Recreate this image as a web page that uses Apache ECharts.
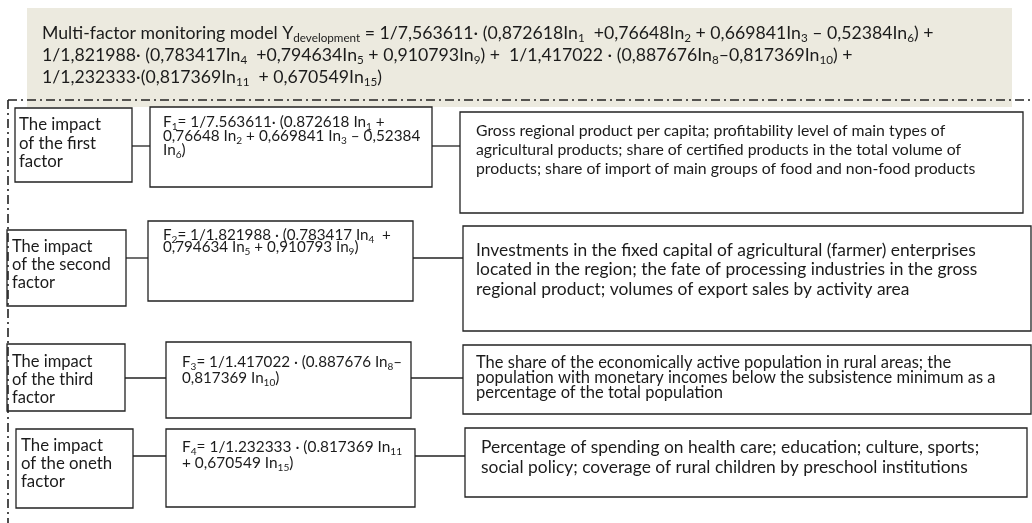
<!DOCTYPE html>
<html>
<head>
<meta charset="utf-8">
<script src="https://cdn.jsdelivr.net/npm/echarts@6/dist/echarts.min.js"></script>
<style>
  html, body { margin: 0; padding: 0; background: #fff; }
  #chart { width: 1032px; height: 523px; }
</style>
</head>
<body>
<div id="chart"></div>
<script>
// text of the diagram, _{..} marks a subscript
const headerLines = [
  'Multi-factor monitoring model Y_{development} = 1/7,563611· (0,872618In_{1}  +0,76648In_{2} + 0,669841In_{3} – 0,52384In_{6}) +',
  '1/1,821988· (0,783417In_{4}  +0,794634In_{5} + 0,910793In_{9}) +  1/1,417022 · (0,887676In_{8}–0,817369In_{10}) +',
  '1/1,232333·(0,817369In_{11}  + 0,670549In_{15})'
];

const factorLabels = [
  ['The impact', 'of the first', 'factor'],
  ['The impact', 'of the second', 'factor'],
  ['The impact', 'of the third', 'factor'],
  ['The impact', 'of the oneth', 'factor']
];

const formulas = [
  ['F_{1}= 1/7.563611· (0.872618 In_{1} +', '0,76648 In_{2} + 0,669841 In_{3} – 0,52384', 'In_{6})'],
  ['F_{2}= 1/1.821988 · (0.783417 In_{4}  +', '0,794634 In_{5} + 0,910793 In_{9})'],
  ['F_{3}= 1/1.417022 · (0.887676 In_{8}–', '0,817369 In_{10})'],
  ['F_{4}= 1/1.232333 · (0.817369 In_{11}', '+ 0,670549 In_{15})']
];

const descriptions = [
  ['Gross regional product per capita; profitability level of main types of',
   'agricultural products; share of certified products in the total volume of',
   'products; share of import of main groups of food and non-food products'],
  ['Investments in the fixed capital of agricultural (farmer) enterprises',
   'located in the region; the fate of processing industries in the gross',
   'regional product; volumes of export sales by activity area'],
  ['The share of the economically active population in rural areas; the',
   'population with monetary incomes below the subsistence minimum as a',
   'percentage of the total population'],
  ['Percentage of spending on health care; education; culture, sports;',
   'social policy; coverage of rural children by preschool institutions']
];

const FONT = 'Lato';
const INK = '#1b1b1b';

// box geometry per row: [x, y, w, h]; text: [x, first line centre, font size, line gap]
const rows = [
  { left: [15, 108, 117, 74], lt: [19, 125, 16.8, 18.5],
    mid: [150, 107, 282, 80], mt: [163, 122, 15.3, 13.8],
    right: [460, 112, 563, 101], rt: [476, 131, 15.8, 19], link: 146 },
  { left: [7, 230, 119, 76], lt: [12, 247, 16.5, 18],
    mid: [148, 221, 265, 80], mt: [163, 235, 15.2, 12],
    right: [463, 226, 568, 105], rt: [476, 250, 17.4, 19.5], link: 258 },
  { left: [7, 344, 118, 67], lt: [12, 362, 16.5, 18],
    mid: [166, 342, 245, 76], mt: [182, 362, 15.2, 16],
    right: [463, 345, 568, 69], rt: [476, 363, 16.5, 15], link: 378 },
  { left: [16, 429, 117, 79], lt: [21, 446, 16.8, 18],
    mid: [166, 429, 249, 78], mt: [182, 447, 15.4, 16],
    right: [465, 428, 562, 69], rt: [481, 447, 17.4, 20], link: 456 }
];

function rich(line) {
  return line.split(/_\{([^}]*)\}/)
    .map((p, i) => p === '' ? '' : (i % 2 ? '{s|' + p + '}' : '{n|' + p + '}'))
    .join('');
}

function textLine(x, y, line, fs) {
  const lh = fs * 1.3;
  const sfs = fs * 0.66;
  return {
    type: 'text', silent: true, x: x, y: y,
    style: {
      text: rich(line), fill: INK, fontFamily: FONT, fontSize: fs,
      align: 'left', verticalAlign: 'middle',
      rich: {
        n: { fontFamily: FONT, fontSize: fs, lineHeight: lh, fill: INK, verticalAlign: 'middle' },
        s: { fontFamily: FONT, fontSize: sfs, lineHeight: sfs, fill: INK, verticalAlign: 'bottom' }
      }
    }
  };
}

function box(r) {
  return {
    type: 'rect', silent: true,
    shape: { x: r[0], y: r[1], width: r[2], height: r[3] },
    style: { fill: '#fff', stroke: '#222', lineWidth: 1.3 }
  };
}

function block(lines, t) {
  return lines.map((l, i) => textLine(t[0], t[1] + i * t[3], l, t[2]));
}

const elements = [];
elements.push({
  type: 'rect', silent: true,
  shape: { x: 27, y: 8, width: 985, height: 99 },
  style: { fill: '#ECEADF' }
});
headerLines.forEach((l, i) => elements.push(textLine(42, 33 + i * 22, l, 17.7)));

rows.forEach((r, k) => {
  const lx2 = r.left[0] + r.left[2];
  const mx2 = r.mid[0] + r.mid[2];
  elements.push({ type: 'line', silent: true,
    shape: { x1: lx2, y1: r.link, x2: r.mid[0], y2: r.link },
    style: { stroke: '#222', lineWidth: 1.3 } });
  elements.push({ type: 'line', silent: true,
    shape: { x1: mx2, y1: r.link, x2: r.right[0], y2: r.link },
    style: { stroke: '#222', lineWidth: 1.3 } });
  elements.push(box(r.left), box(r.mid), box(r.right));
  elements.push(...block(factorLabels[k], r.lt));
  elements.push(...block(formulas[k], r.mt));
  elements.push(...block(descriptions[k], r.rt));
});

// dash-dot frame
const dashStyle = { stroke: '#222', lineWidth: 1.6, lineDash: [9, 4, 2, 4] };
elements.push({ type: 'line', silent: true, shape: { x1: 8, y1: 100, x2: 1032, y2: 100 }, style: dashStyle });
elements.push({ type: 'line', silent: true, shape: { x1: 8, y1: 100, x2: 8, y2: 523 }, style: dashStyle });

const chart = echarts.init(document.getElementById('chart'));
chart.setOption({
  animation: false,
  graphic: { elements: elements }
});
</script>
</body>
</html>
